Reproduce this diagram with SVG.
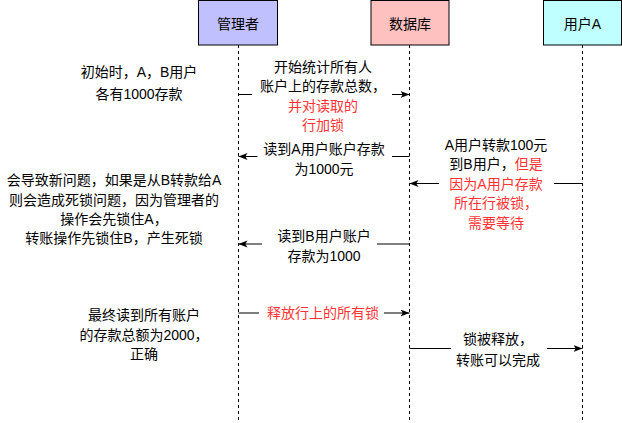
<svg xmlns="http://www.w3.org/2000/svg" width="622" height="423" viewBox="0 0 622 423">
<style>
  text { font-family: "Liberation Sans", "Noto Sans CJK SC", sans-serif; font-size: 14px; fill: #000; text-anchor: middle; }
  .red { fill: #FF3333; }
  .box { stroke: #000; stroke-width: 1; }
  .life { stroke: #000; stroke-width: 1; stroke-dasharray: 3 3; fill: none; }
  .msg { stroke: #000; stroke-width: 1; fill: none; }
</style>
<defs>
  <marker id="arr" markerWidth="10" markerHeight="8" refX="9" refY="3.5" orient="auto" markerUnits="userSpaceOnUse">
    <path d="M0,0 L9,3.5 L0,7 L2.2,3.5 Z" fill="#000"/>
  </marker>
</defs>
<rect width="622" height="423" fill="#fff"/>

<g id="admin">
  <rect class="box" x="198.5" y="0.5" width="79" height="44.5" fill="#C0C0FF"/>
  <text x="238" y="29">管理者</text>
  <line class="life" x1="238.5" y1="45" x2="238.5" y2="423"/>
</g>
<g id="database">
  <rect class="box" x="371" y="0.5" width="78" height="44.5" fill="#FFC0C0"/>
  <text x="410" y="29">数据库</text>
  <line class="life" x1="409.5" y1="45" x2="409.5" y2="423"/>
</g>
<g id="userA">
  <rect class="box" x="543.5" y="0.5" width="78" height="44.5" fill="#C0FFFF"/>
  <text x="582.5" y="29">用户A</text>
  <line class="life" x1="582.5" y1="45" x2="582.5" y2="423"/>
</g>

<g id="connectors">
  <path class="msg" d="M238.5,94.5 H252"/>
  <path class="msg" d="M392,94.5 H409.5" marker-end="url(#arr)"/>
  <path class="msg" d="M409.5,156.5 H392"/>
  <path class="msg" d="M257.5,156.5 H238.5" marker-end="url(#arr)"/>
  <path class="msg" d="M582.5,183.5 H554"/>
  <path class="msg" d="M439,183.5 H409.5" marker-end="url(#arr)"/>
  <path class="msg" d="M409.5,244 H377"/>
  <path class="msg" d="M262,244 H238.5" marker-end="url(#arr)"/>
  <path class="msg" d="M238.5,313 H259"/>
  <path class="msg" d="M384,313 H409.5" marker-end="url(#arr)"/>
  <path class="msg" d="M409.5,348.5 H451"/>
  <path class="msg" d="M547,348.5 H582.5" marker-end="url(#arr)"/>
</g>

<g id="label-msg1">
  <text x="323" y="71.5">开始统计所有人</text>
  <text x="323" y="91">账户上的存款总数，</text>
  <text x="323" y="110.5" class="red">并对读取的</text>
  <text x="323" y="130" class="red">行加锁</text>
</g>
<g id="label-msg2">
  <text x="324" y="154">读到A用户账户存款</text>
  <text x="324" y="173.5">为1000元</text>
</g>
<g id="label-msg3">
  <text x="496" y="149.5">A用户转款100元</text>
  <text x="496" y="169">到B用户，<tspan class="red">但是</tspan></text>
  <text x="496" y="188.5" class="red">因为A用户存款</text>
  <text x="496" y="208" class="red">所在行被锁，</text>
  <text x="496" y="227.5" class="red">需要等待</text>
</g>
<g id="label-msg4">
  <text x="324" y="241">读到B用户账户</text>
  <text x="324" y="260.5">存款为1000</text>
</g>
<g id="label-msg5">
  <text x="323" y="318" class="red">释放行上的所有锁</text>
</g>
<g id="label-msg6">
  <text x="498" y="344">锁被释放，</text>
  <text x="498" y="364.5">转账可以完成</text>
</g>

<g id="note-initial">
  <text x="139" y="76.5">初始时，A，B用户</text>
  <text x="139" y="99">各有1000存款</text>
</g>
<g id="note-deadlock">
  <text x="114" y="185">会导致新问题，如果是从B转款给A</text>
  <text x="114" y="204.5">则会造成死锁问题，因为管理者的</text>
  <text x="114" y="223.5">操作会先锁住A，</text>
  <text x="114" y="243">转账操作先锁住B，产生死锁</text>
</g>
<g id="note-final">
  <text x="144" y="320">最终读到所有账户</text>
  <text x="144" y="339.5">的存款总额为2000，</text>
  <text x="144" y="359">正确</text>
</g>
</svg>
